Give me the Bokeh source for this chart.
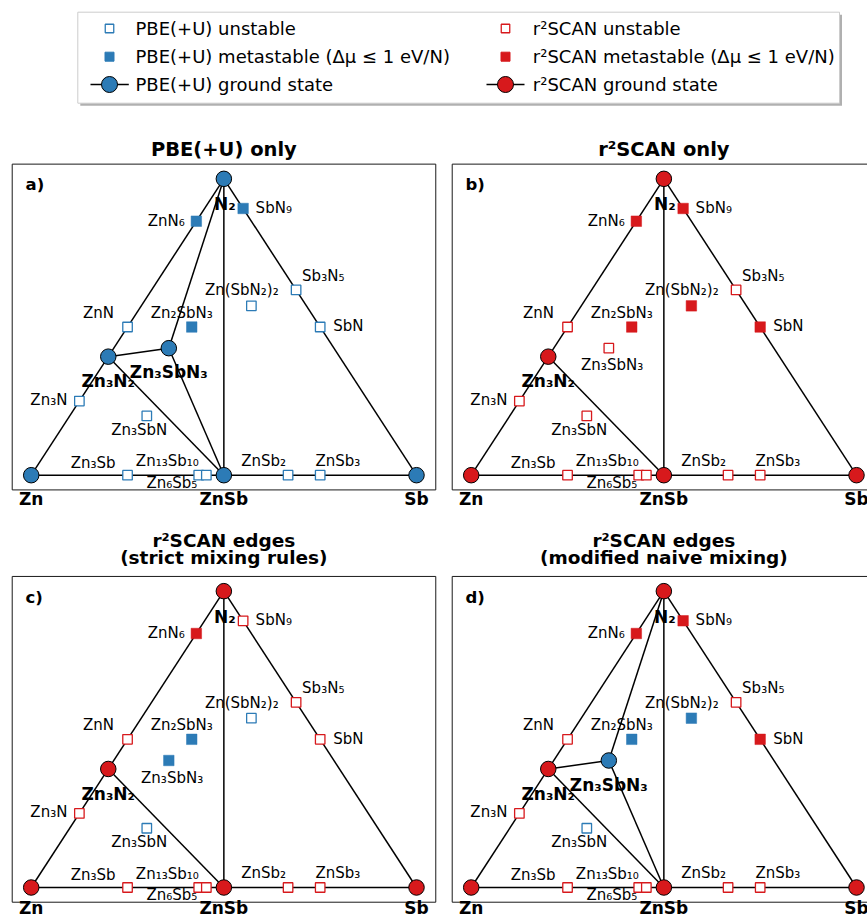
import numpy as np
from bokeh.plotting import figure
from bokeh.layouts import column, row
from bokeh.models import Range1d, ColumnDataSource
from bokeh.core.properties import value
from bokeh.embed import file_html
from bokeh.resources import INLINE

# ---------------- data ----------------
compounds = ["Zn", "Sb", "N2", "ZnSb", "Zn3N2", "Zn3SbN3", "ZnN6", "SbN9", "Zn2SbN3",
             "ZnN", "Zn3N", "Sb3N5", "SbN", "Zn(SbN2)2", "Zn3SbN", "Zn3Sb",
             "Zn13Sb10", "Zn6Sb5", "ZnSb2", "ZnSb3"]
labels = ["Zn", "Sb", "N₂", "ZnSb", "Zn₃N₂", "Zn₃SbN₃", "ZnN₆", "SbN₉", "Zn₂SbN₃",
          "ZnN", "Zn₃N", "Sb₃N₅", "SbN", "Zn(SbN₂)₂", "Zn₃SbN", "Zn₃Sb",
          "Zn₁₃Sb₁₀", "Zn₆Sb₅", "ZnSb₂", "ZnSb₃"]
n_zn = [1, 0, 0, 1, 3, 3, 1, 0, 2, 1, 3, 0, 0, 1, 3, 3, 13, 6, 1, 1]
n_sb = [0, 1, 0, 1, 0, 1, 0, 1, 1, 0, 0, 3, 1, 2, 1, 1, 10, 5, 2, 3]
n_n = [0, 0, 2, 0, 2, 3, 6, 9, 3, 1, 1, 5, 1, 4, 1, 0, 0, 0, 0, 0]

# status codes: P/R = PBE(+U) / r2SCAN ; g = ground state, m = metastable, u = unstable
status_a = ["Pg", "Pg", "Pg", "Pg", "Pg", "Pg", "Pm", "Pm", "Pm",
            "Pu", "Pu", "Pu", "Pu", "Pu", "Pu", "Pu", "Pu", "Pu", "Pu", "Pu"]
status_b = ["Rg", "Rg", "Rg", "Rg", "Rg", "Ru", "Rm", "Rm", "Rm",
            "Ru", "Ru", "Ru", "Rm", "Rm", "Ru", "Ru", "Ru", "Ru", "Ru", "Ru"]
status_c = ["Rg", "Rg", "Rg", "Rg", "Rg", "Pm", "Rm", "Ru", "Pm",
            "Ru", "Ru", "Ru", "Ru", "Pu", "Pu", "Ru", "Ru", "Ru", "Ru", "Ru"]
status_d = ["Rg", "Rg", "Rg", "Rg", "Rg", "Pg", "Rm", "Rm", "Pm",
            "Ru", "Ru", "Ru", "Rm", "Pm", "Pu", "Ru", "Ru", "Ru", "Ru", "Ru"]

ties_with_ternary = [("Zn", "Zn3N2"), ("Zn3N2", "N2"), ("N2", "Sb"), ("Zn", "ZnSb"),
                     ("ZnSb", "Sb"), ("N2", "ZnSb"), ("Zn3N2", "ZnSb"),
                     ("Zn3N2", "Zn3SbN3"), ("Zn3SbN3", "N2"), ("Zn3SbN3", "ZnSb")]
ties_binary_only = ties_with_ternary[:7]

titles = [["PBE(+U) only"], ["r²SCAN only"],
          ["r²SCAN edges", "(strict mixing rules)"],
          ["r²SCAN edges", "(modified naive mixing)"]]
tags = ["a)", "b)", "c)", "d)"]

legend_labels = ["PBE(+U) unstable", "PBE(+U) metastable (Δμ ≤ 1 eV/N)", "PBE(+U) ground state",
                 "r²SCAN unstable", "r²SCAN metastable (Δμ ≤ 1 eV/N)", "r²SCAN ground state"]

# ---------------- styles ----------------
BLUE = "#2c7bb6"
RED = "#d7191c"
FONT = value("DejaVu Sans")
COL = {"P": BLUE, "R": RED}
BASE_FIX = -0.35   # baseline correction, fraction of font size (px, upward)

# label placement (align, dx px, dy px downward from point to baseline)
label_layout = {
    "Zn": ("center", 0, 30), "Sb": ("center", 0, 30), "N2": ("center", 1, 31.5),
    "ZnSb": ("center", 0, 30), "Zn3N2": ("center", 0, 30.5), "Zn3SbN3": ("center", 0, 30),
    "ZnN6": ("right", -11.5, 5), "SbN9": ("left", 12.5, 4.7), "Zn2SbN3": ("center", -10, -8.8),
    "ZnN": ("right", -13.5, -8.8), "Zn3N": ("right", -12, 3.7), "Sb3N5": ("left", 6, -8.8),
    "SbN": ("left", 13, 4.5), "Zn(SbN2)2": ("center", -9.6, -10.3), "Zn3SbN": ("center", -7.5, 19),
    "Zn3Sb": ("right", -12, -7), "Zn13Sb10": ("right", 0, -8.7), "Zn6Sb5": ("right", -9, 12.6),
    "ZnSb2": ("right", -2, -9), "ZnSb3": ("left", -4.7, -9),
}
label_layout_not_ground = {"Zn3SbN3": ("center", 3.3, 22.5)}
base_vertex_labels = ["Zn", "ZnSb", "Sb"]

SX, SY = 385.3, 342.2   # px per data unit

tot = np.array(n_zn) + np.array(n_sb) + np.array(n_n)
f_sb = np.array(n_sb) / tot
f_n = np.array(n_n) / tot
tx = f_sb + f_n / 2.0
ty = f_n * np.sqrt(3) / 2.0
idx = {c: i for i, c in enumerate(compounds)}


def canvas(width, height, xr, yr):
    p = figure(width=width, height=height, x_range=xr, y_range=yr,
               output_backend="svg", toolbar_location=None, title=None,
               x_axis_location=None, y_axis_location=None,
               min_border=0, min_border_left=0, min_border_right=0,
               min_border_top=0, min_border_bottom=0,
               outline_line_color=None, background_fill_color="white",
               border_fill_color="white")
    p.grid.visible = False
    return p


def put_text(p, x, y, txt, fs, bold=False, align="left", dx=0.0, dy=0.0):
    p.text(x=[x], y=[y], text=[txt], text_align=align, text_baseline="alphabetic",
           x_offset=dx, y_offset=dy + BASE_FIX * fs, text_font=FONT,
           text_font_size=f"{fs}px", text_font_style="bold" if bold else "normal",
           text_color="black")


def make_panel(status, ties, title_lines, tag, x_start, width, y_end, height, base_lift=0.0):
    p = canvas(width, height, Range1d(x_start, x_start + width / SX),
               Range1d(y_end - height / SY, y_end))
    # axes box
    p.quad(left=[-0.0493], right=[1.05], bottom=[-0.043], top=[0.909],
           fill_color=None, line_color="#1a1a1a", line_width=1)
    # tie lines
    xs = [[tx[idx[a]], tx[idx[b]]] for a, b in ties]
    ys = [[ty[idx[a]], ty[idx[b]]] for a, b in ties]
    p.multi_line(xs=xs, ys=ys, line_color="black", line_width=1.5)
    # markers
    for kind in ["u", "m", "g"]:
        for src in ["P", "R"]:
            sel = [i for i, s in enumerate(status) if s == src + kind]
            if not sel:
                continue
            ds = ColumnDataSource(dict(x=tx[sel], y=ty[sel]))
            if kind == "u":
                p.scatter("x", "y", source=ds, marker="square", size=9.5,
                          fill_color="white", line_color=COL[src], line_width=1.3)
            elif kind == "m":
                p.scatter("x", "y", source=ds, marker="square", size=10.5,
                          fill_color=COL[src], line_color=COL[src], line_width=0.5)
            else:
                p.scatter("x", "y", source=ds, marker="circle", size=15.5,
                          fill_color=COL[src], line_color="black", line_width=1)
    # labels
    for i, c in enumerate(compounds):
        ground = status[i][1] == "g"
        if (not ground) and c in label_layout_not_ground:
            align, dx, dy = label_layout_not_ground[c]
        else:
            align, dx, dy = label_layout[c]
        if c in base_vertex_labels:
            dy -= base_lift
        put_text(p, tx[i], ty[i], labels[i], 17 if ground else 15, bold=ground,
                 align=align, dx=dx, dy=dy)
    # title
    if len(title_lines) == 1:
        ypos, fs = [0.9322], 19.5
    else:
        ypos, fs = [0.9945, 0.945], 18.5
    for t, yy in zip(title_lines, ypos):
        put_text(p, 0.5, yy, t, fs, bold=True, align="center")
    # panel tag
    put_text(p, -0.0148, 0.832, tag, 16.5, bold=True, align="left")
    return p


# page coordinates equal reference coordinates (no page margin)
pa = make_panel(status_a, ties_with_ternary, titles[0], tags[0], -0.0797, 440, 1.0482, 412)
pb = make_panel(status_b, ties_binary_only, titles[1], tags[1], -0.0797, 427, 1.0482, 412)
pc = make_panel(status_c, ties_binary_only, titles[2], tags[2], -0.0797, 440, 1.0491, 390,
                base_lift=3.5)
pd = make_panel(status_d, ties_with_ternary, titles[3], tags[3], -0.0797, 427, 1.0491, 390,
                base_lift=3.5)

# ---------------- legend ----------------
leg = canvas(867, 116, Range1d(0, 867), Range1d(116, 0))
leg.quad(left=[79.8], right=[841.5], top=[14.2], bottom=[105.2],
         fill_color="#b0b0b0", line_color=None)
leg.quad(left=[77.3], right=[839], top=[11.7], bottom=[102.7],
         fill_color="white", line_color="#cccccc", line_width=1)
row_y = [28.0, 56.2, 84.0]
row_base = [34.3, 62.3, 90.0]
col_mx = [109, 505]
col_tx = [135, 532.3]
col_line = [(90, 128.3), (486, 524)]
for ci, src in enumerate(["P", "R"]):
    c = COL[src]
    mx = col_mx[ci]
    leg.scatter([mx], [row_y[0]], marker="square", size=8.5, fill_color="white",
                line_color=c, line_width=1.3)
    leg.scatter([mx], [row_y[1]], marker="square", size=9, fill_color=c, line_color=c)
    leg.line(list(col_line[ci]), [row_y[2], row_y[2]], line_color="black", line_width=1.5)
    leg.scatter([mx], [row_y[2]], marker="circle", size=16, fill_color=c,
                line_color="black", line_width=1)
    for ri in range(3):
        put_text(leg, col_tx[ci], row_base[ri], legend_labels[ci * 3 + ri], 18)

layout = column(leg, row(pa, pb), row(pc, pd))
open("out.html", "w").write(file_html(layout, INLINE))
